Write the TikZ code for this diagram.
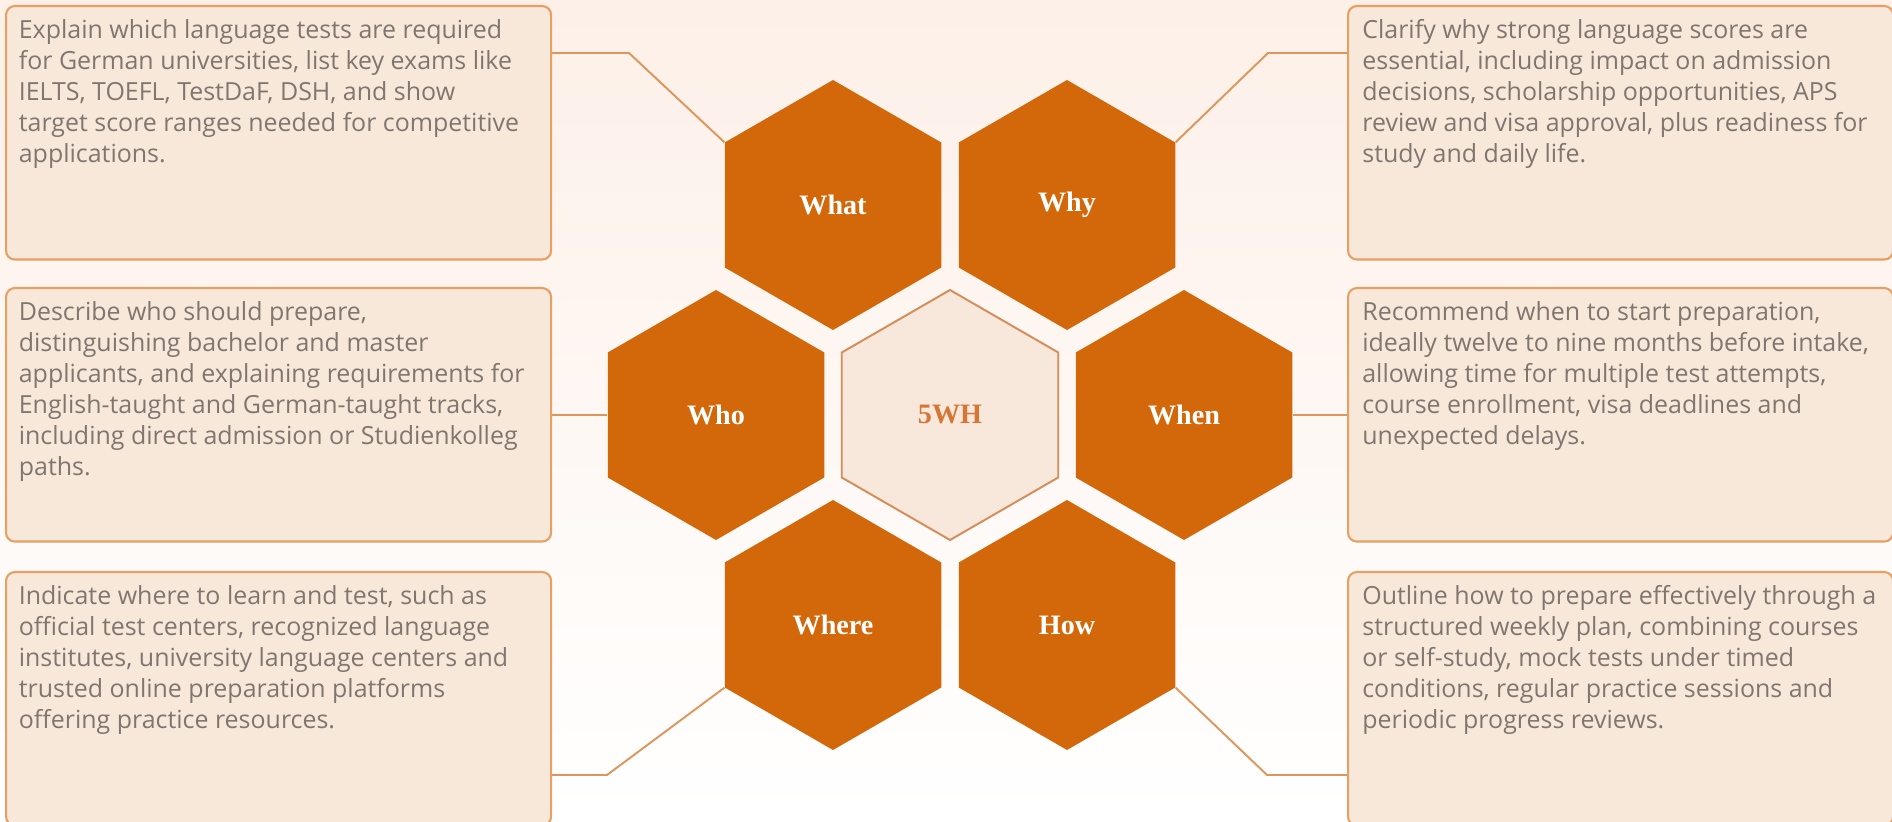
\documentclass[tikz,border=0pt]{standalone}
\usepackage{fontspec}
\setsansfont{Open Sans}
\newfontfamily\hexfont{Liberation Serif}
\usepackage{xcolor}
\usetikzlibrary{shapes.geometric, positioning, calc}

\definecolor{hexorange}{RGB}{211,104,10}
\definecolor{corefill}{RGB}{248,231,219}
\definecolor{coreline}{RGB}{214,140,88}
\definecolor{coretext}{RGB}{214,118,52}
\definecolor{boxfill}{RGB}{248,232,218}
\definecolor{boxline}{RGB}{230,160,100}
\definecolor{linkline}{RGB}{222,150,90}
\definecolor{bodytext}{RGB}{128,118,112}
\definecolor{bgtop}{RGB}{253,240,232}

\begin{document}
\begin{tikzpicture}[
  node distance=4.2cm and 2.34cm, on grid,
  hex/.style={regular polygon, regular polygon sides=6, shape border rotate=30,
              minimum size=5cm, inner sep=0pt, fill=#1,
              font=\hexfont\bfseries\fontsize{16}{18}\selectfont, text=white},
  infobox/.style={rectangle, rounded corners=5pt, draw=boxline, line width=1.2pt,
                  fill=boxfill, minimum width=10.9cm, minimum height=5.07cm,
                  anchor=north west, inner sep=0pt},
  infotext/.style={anchor=north west, align=left, inner sep=0pt, text=bodytext,
                   font=\sffamily\fontsize{14.2}{17.6}\selectfont},
  link/.style={draw=linkline, line width=1.1pt}
]

% Canvas
\clip (0,0) rectangle (37.84,16.42);
\shade[top color=bgtop, bottom color=white] (0,0) rectangle (37.84,16.42);

% Hexagons (centre first)
\node[hex=corefill, draw=coreline, line width=1.1pt, text=coretext] (core) at (19,8.12) {5WH};
\node[hex=hexorange, above left=of core]  (what)  {What};
\node[hex=hexorange, above right=of core] (why)   {Why};
\node[hex=hexorange, left=4.68cm of core] (who)   {Who};
\node[hex=hexorange, right=4.68cm of core](when)  {When};
\node[hex=hexorange, below left=of core]  (where) {Where};
\node[hex=hexorange, below right=of core] (how)   {How};

% Boxes
\node[infobox] (whatbox)  at (0.1,16.32)   {};
\node[infobox] (whybox)   at (26.94,16.32) {};
\node[infobox] (whobox)   at (0.1,10.68)   {};
\node[infobox] (whenbox)  at (26.94,10.68) {};
\node[infobox] (wherebox) at (0.1,5.0)     {};
\node[infobox] (howbox)   at (26.94,5.0)   {};

% Texts
\node[infotext] (whattext) at ([shift={(0.27,-0.29)}]whatbox.north west)
  {Explain which language tests are required\\for German universities, list key exams like\\IELTS, TOEFL, TestDaF, DSH, and show\\target score ranges needed for competitive\\applications.};
\node[infotext] (whytext) at ([shift={(0.3,-0.29)}]whybox.north west)
  {Clarify why strong language scores are\\essential, including impact on admission\\decisions, scholarship opportunities, APS\\review and visa approval, plus readiness for\\study and daily life.};
\node[infotext] (whotext) at ([shift={(0.27,-0.29)}]whobox.north west)
  {Describe who should prepare,\\distinguishing bachelor and master\\applicants, and explaining requirements for\\English-taught and German-taught tracks,\\including direct admission or Studienkolleg\\paths.};
\node[infotext] (whentext) at ([shift={(0.3,-0.29)}]whenbox.north west)
  {Recommend when to start preparation,\\ideally twelve to nine months before intake,\\allowing time for multiple test attempts,\\course enrollment, visa deadlines and\\unexpected delays.};
\node[infotext] (wheretext) at ([shift={(0.27,-0.29)}]wherebox.north west)
  {Indicate where to learn and test, such as\\official test centers, recognized language\\institutes, university language centers and\\trusted online preparation platforms\\offering practice resources.};
\node[infotext] (howtext) at ([shift={(0.3,-0.29)}]howbox.north west)
  {Outline how to prepare effectively through a\\structured weekly plan, combining courses\\or self-study, mock tests under timed\\conditions, regular practice sessions and\\periodic progress reviews.};

% Connectors
\coordinate (whatbend)  at (12.58,15.36);
\coordinate (whybend)   at (25.36,15.36);
\coordinate (wherebend) at (12.14,0.92);
\coordinate (howbend)   at (25.34,0.92);
\draw[link] (whatbox.east |- whatbend) -- (whatbend) -- (what.150);
\draw[link] (why.30) -- (whybend) -- (whybox.west |- whybend);
\draw[link] (who.west) -- (who.west -| whobox.east);
\draw[link] (when.east) -- (when.east -| whenbox.west);
\draw[link] (wherebox.east |- wherebend) -- (wherebend) -- (where.210);
\draw[link] (how.330) -- (howbend) -- (howbox.west |- howbend);

\end{tikzpicture}
\end{document}
